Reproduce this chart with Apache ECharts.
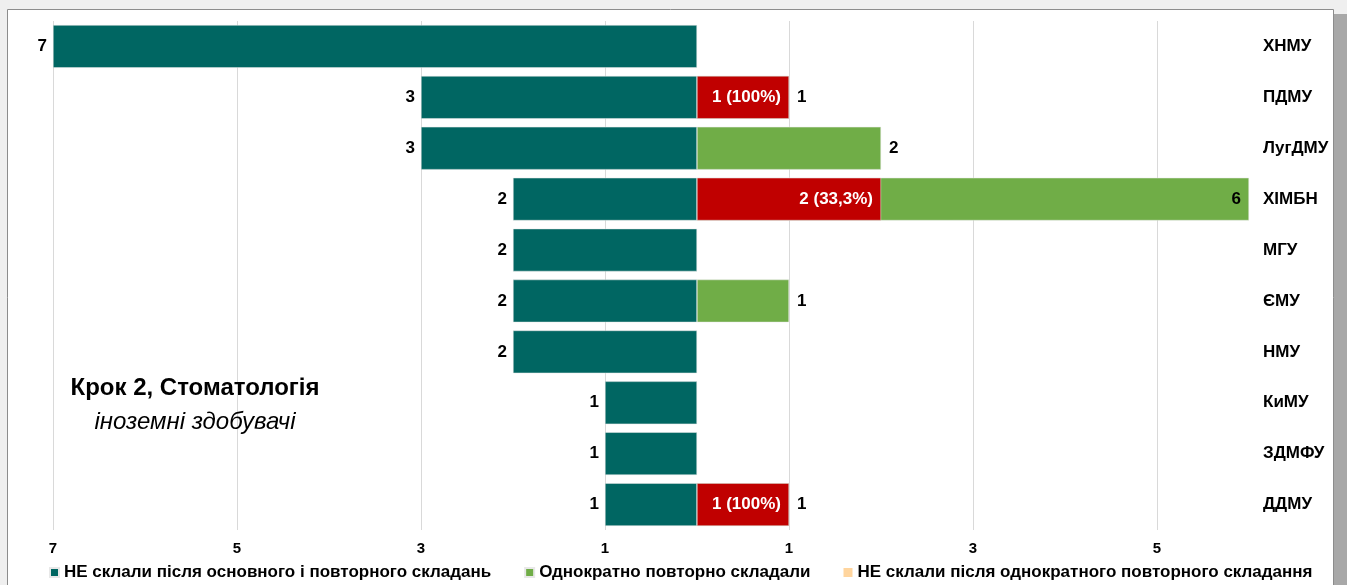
<!DOCTYPE html>
<html>
<head>
<meta charset="utf-8">
<script src="https://cdn.jsdelivr.net/npm/echarts@6/dist/echarts.min.js"></script>
<style>html,body{margin:0;padding:0;background:#fff}#c{width:1347px;height:585px}</style>
</head>
<body>
<div id="c"></div>
<script>
var categories = ['ХНМУ','ПДМУ','ЛугДМУ','ХІМБН','МГУ','ЄМУ','НМУ','КиМУ','ЗДМФУ','ДДМУ'];
var notPassedBoth = [7,3,3,2,2,2,2,1,1,1];
var retakeOnce = [null,1,2,6,null,1,null,null,null,1];
var notPassedAfterRetake = [null,1,null,2,null,null,null,null,null,1];
var notPassedPct = [null,'100%',null,'33,3%',null,null,null,null,null,'100%'];
var tickLabels = {'-7':'7','-5':'5','-3':'3','-1':'1','1':'1','3':'3','5':'5'};
var seriesNames = ['НЕ склали після основного і повторного складань','Однократно повторно складали','НЕ склали після однократного повторного складання'];

var FONT = '"Liberation Sans",Arial,sans-serif';
var TEAL = '#006662', GREEN = '#70AD47', RED = '#C00000', PEACH = '#FFD59E';

var chart = echarts.init(document.getElementById('c'), null, {renderer:'canvas'});
var option = {
  backgroundColor: '#fff',
  animation: false,
  graphic: [
    {type:'rect', z:-10, silent:true, shape:{x:0,y:0,width:1347,height:585}, style:{fill:'#efefef'}},
    {type:'rect', z:-9, silent:true, shape:{x:1334,y:14,width:13,height:571}, style:{fill:'#a8a8a8'}},
    {type:'rect', z:-8, silent:true, shape:{x:7.5,y:9.5,width:1326,height:600}, style:{fill:'#fff', stroke:'#8c8c8c', lineWidth:1}},
    {type:'text', z:10, x:195, y:388, style:{text:'Крок 2, Стоматологія', font:'bold 24px '+FONT, fill:'#000', align:'center', verticalAlign:'middle'}},
    {type:'text', z:10, x:195, y:422, style:{text:'іноземні здобувачі', font:'italic 24px '+FONT, fill:'#000', align:'center', verticalAlign:'middle'}}
  ],
  grid: {left:53, right:98, top:21, height:509, containLabel:false},
  legend: {
    top: 559, left: 44,
    icon: 'rect', itemWidth: 9, itemHeight: 9, itemGap: 33,
    textStyle: {fontFamily: FONT, fontWeight:'bold', fontSize: 17, color:'#000'},
    data: seriesNames
  },
  xAxis: {
    type: 'value', min: -7, max: 6, interval: 2,
    axisLine: {show:false}, axisTick: {show:false},
    splitLine: {show:true, showMaxLine:false, showMinLine:true, lineStyle:{color:'#d9d9d9', width:1}},
    axisLabel: {
      showMaxLabel: false, margin: 11,
      fontFamily: FONT, fontWeight:'bold', fontSize: 15, color:'#000',
      formatter: function(v){ var k=String(v); return tickLabels[k] !== undefined ? tickLabels[k] : ''; }
    }
  },
  yAxis: {
    type: 'category', data: categories, inverse: true, position: 'right',
    axisLine: {show:false}, axisTick: {show:false}, splitLine:{show:false},
    axisLabel: {align:'left', margin: 14, fontFamily: FONT, fontWeight:'bold', fontSize: 17, color:'#000'}
  },
  series: [
    {
      name: seriesNames[0], type:'bar', barGap:'-100%', barCategoryGap:'16%',
      itemStyle:{color:TEAL, borderColor:'#e8e8e8', borderWidth:0.5},
      label:{show:true, position:'left', distance:6, fontFamily:FONT, fontWeight:'bold', fontSize:17, color:'#000',
        formatter:function(p){return Math.abs(p.value);}},
      data: notPassedBoth.map(function(v){return -v;})
    },
    {
      name: seriesNames[1], type:'bar', barGap:'-100%', barCategoryGap:'16%',
      itemStyle:{color:GREEN, borderColor:'#e8e8e8', borderWidth:0.5},
      label:{show:true, position:'right', distance:8, fontFamily:FONT, fontWeight:'bold', fontSize:17, color:'#000'},
      data: retakeOnce.map(function(v,i){
        if (v === null) return '-';
        if (v >= 4) return {value:v, label:{position:'insideRight', distance:8}};
        return v;
      })
    },
    {
      name: seriesNames[2], type:'bar', barGap:'-100%', barCategoryGap:'16%',
      itemStyle:{color:PEACH},
      label:{show:true, position:'insideRight', distance:8, fontFamily:FONT, fontWeight:'bold', fontSize:17, color:'#fff',
        formatter:function(p){return p.value + ' (' + notPassedPct[p.dataIndex] + ')';}},
      data: notPassedAfterRetake.map(function(v){
        if (v === null) return '-';
        return {value:v, itemStyle:{color:RED, borderColor:'#e8e8e8', borderWidth:0.5}};
      })
    }
  ]
};
chart.setOption(option);
</script>
</body>
</html>
